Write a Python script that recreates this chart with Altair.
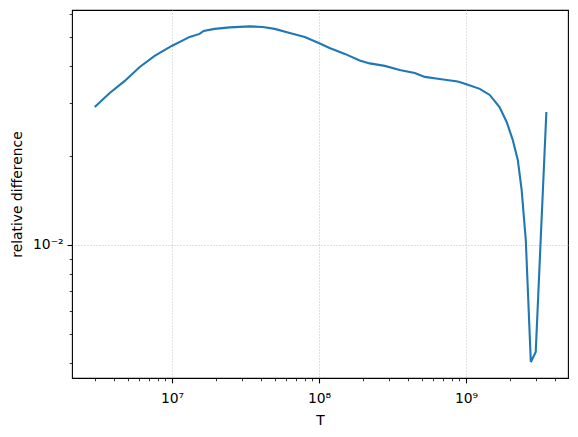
import altair as alt
import pandas as pd

# Data
T = [2.98e6, 3.77e6, 4.77e6, 6.03e6, 7.62e6, 9.95e6, 1.32e7, 1.54e7, 1.64e7, 1.95e7,
     2.47e7, 3.38e7, 4.14e7, 5.00e7, 6.32e7, 8.0e7, 9.95e7, 1.18e8, 1.50e8, 1.89e8,
     2.21e8, 2.80e8, 3.54e8, 4.48e8, 5.24e8, 6.62e8, 8.78e8, 9.95e8, 1.24e9, 1.45e9,
     1.69e9, 1.89e9, 2.08e9, 2.25e9, 2.39e9, 2.55e9, 2.76e9, 2.98e9, 3.22e9, 3.52e9]
rel = [0.02914, 0.03249, 0.03566, 0.03974, 0.04330, 0.04677, 0.05016, 0.05134, 0.05255, 0.05338,
       0.05400, 0.05442, 0.05420, 0.05338, 0.05174, 0.05016, 0.04788, 0.04606, 0.04397, 0.04181,
       0.04085, 0.04007, 0.03884, 0.03795, 0.03679, 0.03622, 0.03553, 0.03485, 0.03353, 0.03199,
       0.02914, 0.02595, 0.02257, 0.01933, 0.01532, 0.01039, 0.004037, 0.004363, 0.01039, 0.02804]

x_major = [1e7, 1e8, 1e9]
x_major_labels = ["10⁷", "10⁸", "10⁹"]
x_minor = [3e6, 4e6, 5e6, 6e6, 7e6, 8e6, 9e6,
           2e7, 3e7, 4e7, 5e7, 6e7, 7e7, 8e7, 9e7,
           2e8, 3e8, 4e8, 5e8, 6e8, 7e8, 8e8, 9e8,
           2e9, 3e9, 4e9]
y_major = [1e-2]
y_major_labels = ["10⁻²"]
y_minor = [4e-3, 5e-3, 6e-3, 7e-3, 8e-3, 9e-3, 2e-2, 3e-2, 4e-2, 5e-2, 6e-2]

x_domain = [2.088e6, 4.94e9]
y_domain = [0.003565, 0.0618]

df = pd.DataFrame({"T": T, "rel": rel})

major_test = "abs(log(datum.value)/LN10 - round(log(datum.value)/LN10)) < 1e-6"


def label_expr(vals, labels):
    expr = "''"
    for v, l in zip(vals, labels):
        expr = f"(abs(datum.value - {v!r}) < {v!r}*1e-6) ? '{l}' : ({expr})"
    return expr


def make_axis(values, labels, title, label_pad, **kw):
    return alt.Axis(
        values=values,
        labelExpr=label_expr(values[:len(labels)], labels),
        title=title,
        domain=False,
        grid=True,
        gridColor="#b0b0b0",
        gridDash=[1, 2],
        gridWidth=0.8,
        gridOpacity={"condition": {"test": major_test, "value": 1}, "value": 0},
        tickColor="black",
        tickSize={"condition": {"test": major_test, "value": 4.9}, "value": 2.8},
        tickWidth={"condition": {"test": major_test, "value": 1.1}, "value": 0.8},
        labelFont="DejaVu Sans",
        labelFontSize=13.9,
        labelColor="black",
        labelPadding=label_pad,
        labelOverlap=False,
        labelFlush=False,
        titleFont="DejaVu Sans",
        titleFontSize=13.9,
        titleFontWeight="normal",
        titleColor="black",
        **kw,
    )


x_axis = make_axis(x_major + x_minor, x_major_labels, "T", 9,
                   titleX=248, titleY=42, titleAlign="center", titleBaseline="middle")
y_axis = make_axis(y_major + y_minor, y_major_labels, "relative difference", 4,
                   titleX=-55, titleY=184, titleAngle=270, titleAlign="center",
                   titleBaseline="middle")

chart = alt.Chart(df).mark_line(color="#1f77b4", strokeWidth=2.1, clip=True).encode(
    x=alt.X("T:Q", scale=alt.Scale(type="log", domain=x_domain, nice=False), axis=x_axis),
    y=alt.Y("rel:Q", scale=alt.Scale(type="log", domain=y_domain, nice=False), axis=y_axis),
    order=alt.Order("T:Q"),
).properties(
    width=496,
    height=368,
    background="white",
    autosize=alt.AutoSizeParams(type="none"),
    padding={"left": 64, "top": 2, "right": 2, "bottom": 50},
).configure_view(
    stroke="black", strokeWidth=1.1
)

chart.save("out.html", embed_options={"renderer": "svg", "actions": False})
